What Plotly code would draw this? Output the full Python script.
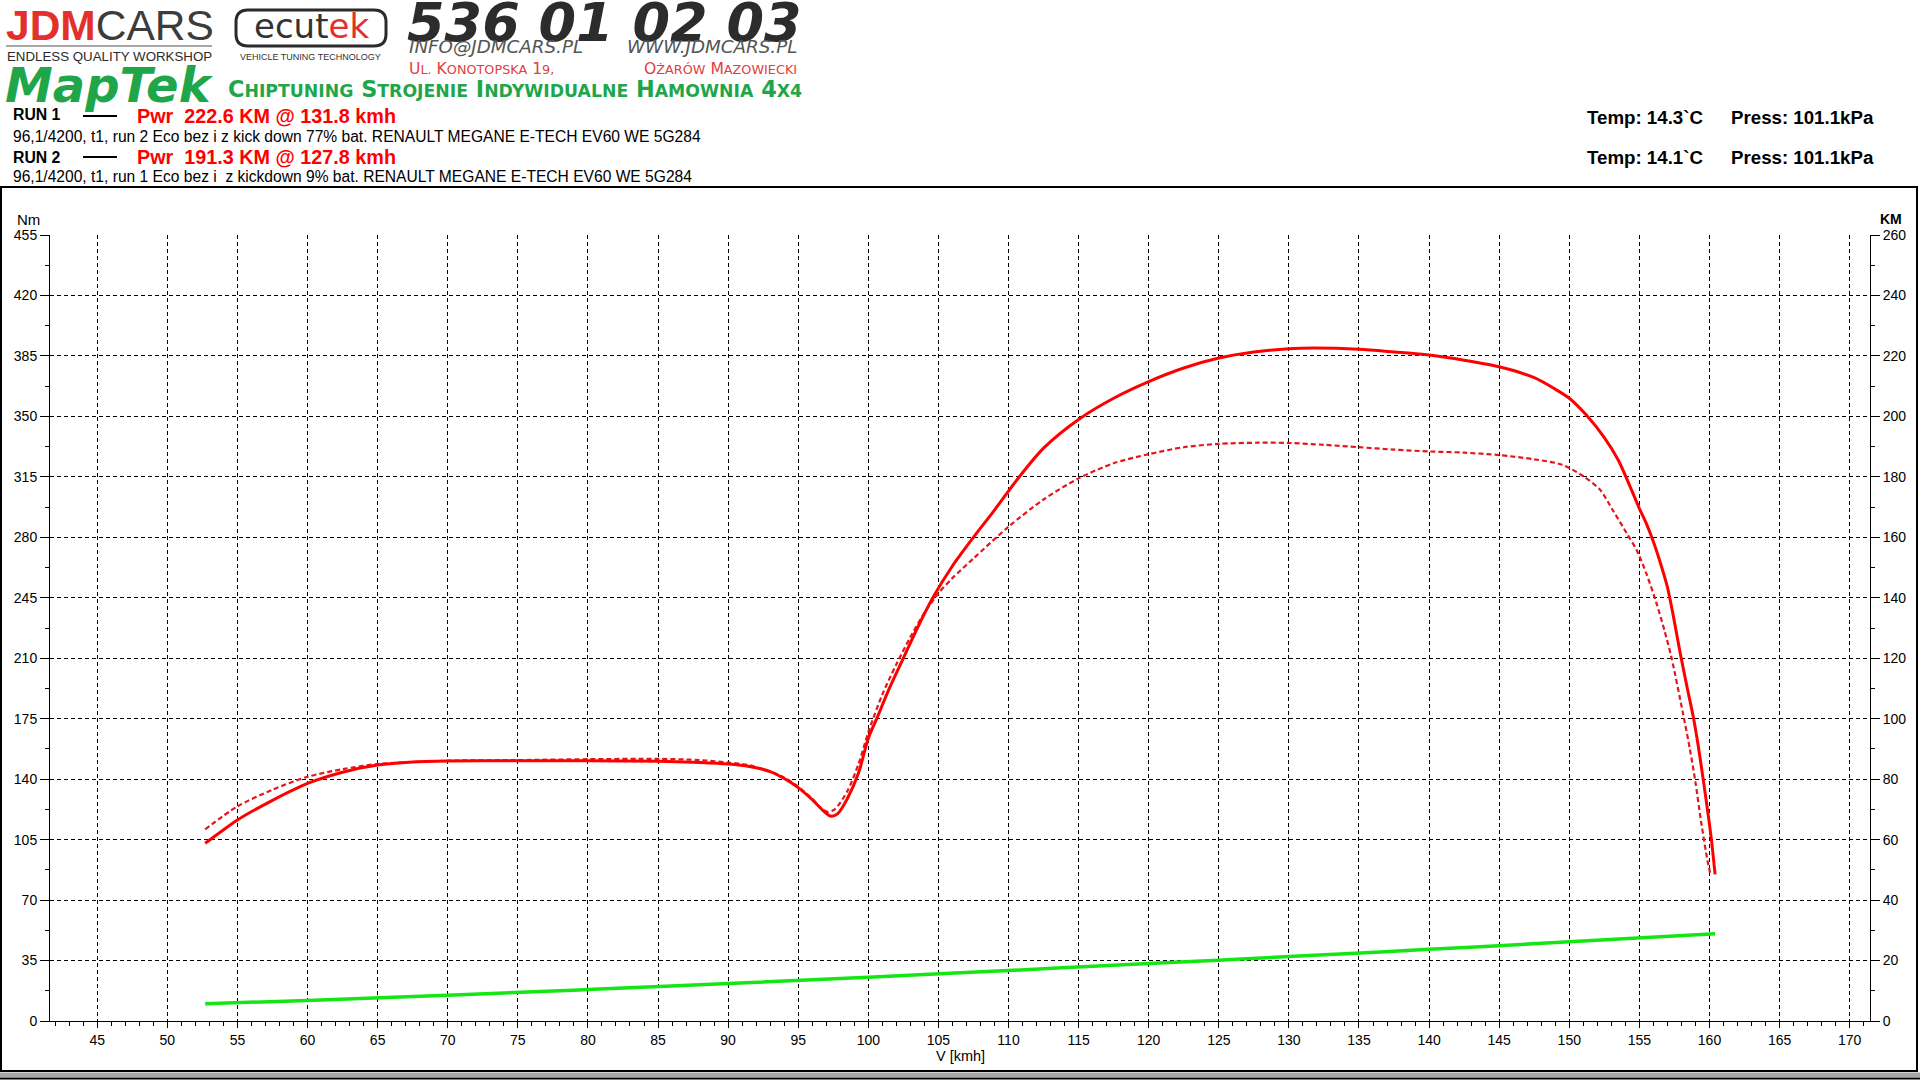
import plotly.graph_objects as go

# ---------------- data ----------------
run1_v = [52.7, 53.5, 55, 57.5, 60, 62.5, 65, 67.5, 70, 75, 80, 85, 88, 90, 91.5, 93, 94, 95, 96,
          96.8, 97.3, 97.8, 98.5, 99.3, 100, 100.6, 101.5, 102.5, 103.5, 104.6, 106, 107.5, 109,
          110.6, 112.5, 115, 117.5, 120, 122.5, 125, 127.5, 130, 131.8, 135, 137.5, 140, 142.5,
          145, 147.5, 149, 150, 151.2, 152.5, 153.5, 154.5, 155, 155.5, 156, 156.5, 157, 157.4,
          157.9, 158.4, 158.85, 159.2, 159.55, 159.9, 160.15, 160.4]
run1_km = [58.8, 61.5, 66.5, 73.0, 78.6, 82.3, 84.7, 85.7, 86.0, 86.1, 86.1, 85.9, 85.5, 85.0, 84.2,
           82.5, 80.2, 77.2, 73.2, 69.5, 67.8, 68.5, 73.5, 82.0, 93.5, 100.0, 110.0, 120.0, 130.0,
           140.0, 150.5, 160.0, 169.0, 179.0, 189.5, 199.0, 206.0, 211.5, 216.0, 219.3, 221.3,
           222.4, 222.6, 222.2, 221.3, 220.3, 218.6, 216.4, 212.8, 209.0, 206.0, 200.5, 193.0,
           185.5, 175.0, 169.5, 164.5, 158.5, 151.5, 143.5, 134.5, 122.0, 110.5, 100.5, 91.0,
           80.0, 68.5, 59.5, 48.5]

run2_v = [52.7, 55, 57.5, 60, 62.5, 65, 70, 75, 80, 85, 88, 90, 91.5, 93, 94, 95, 96, 96.6, 97.1,
          97.6, 98.5, 99.3, 100, 101, 102, 103, 104, 105, 106, 107.5, 110, 112.5, 115, 117.5, 120,
          122.5, 125, 127.8, 130, 132.5, 135, 137.5, 140, 142.5, 145, 147.5, 149.5, 151, 152.2,
          153.1, 154.1, 154.8, 155.5, 156.2, 156.8, 157.3, 158.1, 158.6, 159.0, 159.4, 159.9, 160.1]
run2_km = [63.4, 71.0, 76.5, 80.8, 83.3, 85.0, 86.1, 86.3, 86.6, 86.7, 86.3, 85.5, 84.6, 82.5,
           80.5, 77.5, 73.5, 70.5, 69.2, 70.0, 76.0, 85.0, 95.5, 108.0, 118.0, 127.0, 135.0,
           141.5, 146.5, 153.0, 163.5, 172.5, 179.5, 184.5, 187.5, 189.8, 190.9, 191.3, 191.2,
           190.6, 189.8, 189.0, 188.4, 188.0, 187.2, 185.8, 184.0, 180.2, 175.7, 169.0, 161.3,
           155.8, 148.0, 138.5, 129.0, 120.0, 102.0, 90.0, 79.0, 66.0, 52.0, 48.0]

loss_v = [52.7, 60, 70, 80, 90, 100, 110, 120, 125, 130, 140, 150, 160.4]
loss_km = [5.7, 6.8, 8.5, 10.4, 12.4, 14.5, 16.7, 19.0, 20.1, 21.3, 23.7, 26.2, 28.9]

x_ticks = list(range(45, 171, 5))
nm_ticks = list(range(0, 456, 35))
km_ticks = list(range(0, 261, 20))

run1_label = "RUN 1"
run2_label = "RUN 2"
run1_pwr = "Pwr\u00a0\u00a0222.6 KM @ 131.8 kmh"
run2_pwr = "Pwr\u00a0\u00a0191.3 KM @ 127.8 kmh"
run1_desc = "96,1/4200, t1, run 2 Eco bez i z kick down 77% bat. RENAULT MEGANE E-TECH EV60 WE 5G284"
run2_desc = "96,1/4200, t1, run 1 Eco bez i\u00a0 z kickdown 9% bat. RENAULT MEGANE E-TECH EV60 WE 5G284"
run1_temp, run1_press = "Temp: 14.3`C", "Press: 101.1kPa"
run2_temp, run2_press = "Temp: 14.1`C", "Press: 101.1kPa"

# ---------------- layout helpers ----------------
W, H = 1920, 1080
ML, MR, MT, MB = 50, 50, 235, 59
PW, PH = W - ML - MR, H - MT - MB
ARIAL = "Liberation Sans, Arial, sans-serif"
NARROW = "Liberation Sans Narrow, Arial Narrow, Liberation Sans"
WIDE = "DejaVu Sans, Verdana, sans-serif"
GREEN = "#1fa64a"
LOGORED = "#e3302c"


def fx(px):
    return (px - ML) / PW


def fy(py):
    return (H - MB - py) / PH


annotations = []


def txt(text, x, y, size, color="black", family=ARIAL, xanchor="left", yanchor="middle"):
    annotations.append(dict(text=text, x=fx(x), y=fy(y), xref="paper", yref="paper",
                            showarrow=False, xanchor=xanchor, yanchor=yanchor,
                            font=dict(size=size, color=color, family=family), borderpad=0))


def sc(word, small):
    # small caps helper
    out = []
    for w in word.split(" "):
        if len(w) > 1:
            out.append(w[0].upper() + "<span style='font-size:%spx'>%s</span>" % (small, w[1:].upper()))
        else:
            out.append(w)
    return " ".join(out)


fig = go.Figure()

# empty trace so that the left (Nm) axis is drawn
fig.add_trace(go.Scatter(x=[], y=[], mode="lines", showlegend=False, hoverinfo="skip"))
fig.add_trace(go.Scatter(x=loss_v, y=loss_km, yaxis="y2", mode="lines",
                         line=dict(color="#14e614", width=3.5, shape="spline"),
                         showlegend=False, hoverinfo="skip"))
fig.add_trace(go.Scatter(x=run2_v, y=run2_km, yaxis="y2", mode="lines",
                         line=dict(color="#e8141c", width=2.2, dash="5px,3px", shape="spline",
                                   smoothing=0.8),
                         showlegend=False))
fig.add_trace(go.Scatter(x=run1_v, y=run1_km, yaxis="y2", mode="lines",
                         line=dict(color="#ff0000", width=3, shape="spline", smoothing=0.8),
                         showlegend=False))

# ---------------- header ----------------
txt("<b>JDM</b><span style='color:#3c3c3c'>CARS</span>", 5, 25, 42.5, color=LOGORED, family=NARROW)
txt("ENDLESS QUALITY WORKSHOP", 6, 56, 13.3, color="#2a2a2a", family=NARROW)
txt("ecut<span style='color:#e3302c'>ek</span>", 311, 26, 34, color="#333333", family=WIDE,
    xanchor="center")
txt("VEHICLE TUNING TECHNOLOGY", 310, 57, 9, color="#333333", family=ARIAL, xanchor="center")
txt("<b><i>536 01 02 03</i></b>", 406, 23, 54, color="#2c2c2c", family=WIDE)
txt("<i>INFO@JDMCARS.PL</i>", 408, 47, 18.3, color="#555555", family=WIDE)
txt("<i>WWW.JDMCARS.PL</i>", 798, 47, 18.3, color="#555555", family=WIDE, xanchor="right")
txt(sc("Ul. Konotopska 19,", 12.8), 408, 69, 15.6, color="#e3403a", family=WIDE)
txt(sc("Ożarów Mazowiecki", 12.8), 798, 69, 15.6, color="#e3403a", family=WIDE, xanchor="right")
txt("<b><i>MapTek</i></b>", 4, 85, 48, color=GREEN, family=WIDE)
txt("<b>" + sc("Chiptuning Strojenie Indywidualne Hamownia 4x4", 17.3) + "</b>", 227, 89, 22.4,
    color=GREEN, family=WIDE)

# run legend
txt("<b>" + run1_label + "</b>", 12, 115, 15.8)
txt("<b>" + run1_pwr + "</b>", 136, 116, 19.8, color="#ff0000")
txt(run1_desc, 12, 136, 15.6)
txt("<b>" + run2_label + "</b>", 12, 158, 15.8)
txt("<b>" + run2_pwr + "</b>", 136, 157, 19.8, color="#ff0000")
txt(run2_desc, 12, 176, 15.6)
txt("<b>" + run1_temp + "</b>", 1586, 118, 18.7)
txt("<b>" + run1_press + "</b>", 1875, 118, 18.7, xanchor="right")
txt("<b>" + run2_temp + "</b>", 1586, 158, 18.7)
txt("<b>" + run2_press + "</b>", 1875, 158, 18.7, xanchor="right")

# axis captions
txt("Nm", 28, 219, 15, xanchor="center")
txt("<b>KM</b>", 1891, 219, 14, xanchor="center")
txt("V [kmh]", 960, 1056, 14.5, xanchor="center")

shapes = []
# legend line samples
for yy in (116, 157):
    shapes.append(dict(type="line", xref="paper", yref="paper", x0=fx(83), x1=fx(117),
                       y0=fy(yy), y1=fy(yy), line=dict(color="black", width=2)))
# separator under JDMCARS
shapes.append(dict(type="line", xref="paper", yref="paper", x0=fx(6), x1=fx(212),
                   y0=fy(46), y1=fy(46), line=dict(color="#8a8a8a", width=1.5)))


# ecutek rounded box
def rrect(x0, y0, x1, y1, r):
    X = lambda v: "%.5f" % fx(v)
    Y = lambda v: "%.5f" % fy(v)
    return ("M %s,%s L %s,%s Q %s,%s %s,%s L %s,%s Q %s,%s %s,%s L %s,%s Q %s,%s %s,%s "
            "L %s,%s Q %s,%s %s,%s Z" % (
                X(x0 + r), Y(y0), X(x1 - r), Y(y0), X(x1), Y(y0), X(x1), Y(y0 + r),
                X(x1), Y(y1 - r), X(x1), Y(y1), X(x1 - r), Y(y1),
                X(x0 + r), Y(y1), X(x0), Y(y1), X(x0), Y(y1 - r),
                X(x0), Y(y0 + r), X(x0), Y(y0), X(x0 + r), Y(y0)))


shapes.append(dict(type="path", xref="paper", yref="paper", path=rrect(236, 10, 386, 46, 12),
                   line=dict(color="#2a2a2a", width=3)))
# outer frame
shapes.append(dict(type="rect", xref="paper", yref="paper", x0=fx(1), x1=fx(1917),
                   y0=fy(1071), y1=fy(187), line=dict(color="black", width=2)))
shapes.append(dict(type="rect", xref="paper", yref="paper", x0=fx(0), x1=fx(1920),
                   y0=fy(1077), y1=fy(1072.5), fillcolor="#a8a8a8", line=dict(width=0)))
shapes.append(dict(type="line", xref="paper", yref="paper", x0=fx(0), x1=fx(1920),
                   y0=fy(1078.5), y1=fy(1078.5), line=dict(color="black", width=2)))

axis_common = dict(showline=True, linecolor="black", linewidth=1, ticks="outside",
                   tickcolor="black", tickwidth=1, zeroline=False,
                   tickfont=dict(family=ARIAL, size=14, color="black"))

fig.update_layout(
    width=W, height=H,
    margin=dict(l=ML, r=MR, t=MT, b=MB, pad=0),
    paper_bgcolor="white", plot_bgcolor="white",
    showlegend=False,
    xaxis=dict(range=[41.63, 171.45], tickmode="array", tickvals=x_ticks,
               ticktext=[str(t) for t in x_ticks], ticklen=6,
               showgrid=True, gridcolor="black", gridwidth=1, griddash="4px,3px",
               minor=dict(dtick=1, tick0=45, ticks="outside", ticklen=4, tickcolor="black",
                          showgrid=False),
               **axis_common),
    yaxis=dict(range=[0, 455], tickmode="array", tickvals=nm_ticks,
               ticktext=[str(t) for t in nm_ticks], ticklen=9,
               showgrid=True, gridcolor="black", gridwidth=1, griddash="4px,3px",
               minor=dict(dtick=17.5, tick0=0, ticks="outside", ticklen=4, tickcolor="black",
                          showgrid=False),
               **axis_common),
    yaxis2=dict(range=[0, 260], overlaying="y", side="right", tickmode="array",
                tickvals=km_ticks, ticktext=[str(t) for t in km_ticks], ticklen=9,
                showgrid=False,
                minor=dict(dtick=10, tick0=0, ticks="outside", ticklen=4, tickcolor="black",
                           showgrid=False),
                **axis_common),
    annotations=annotations,
    shapes=shapes,
)

fig.write_html("out.html", config={"displayModeBar": False},
               post_script="document.body.style.margin='0';document.body.style.overflow='hidden';")
